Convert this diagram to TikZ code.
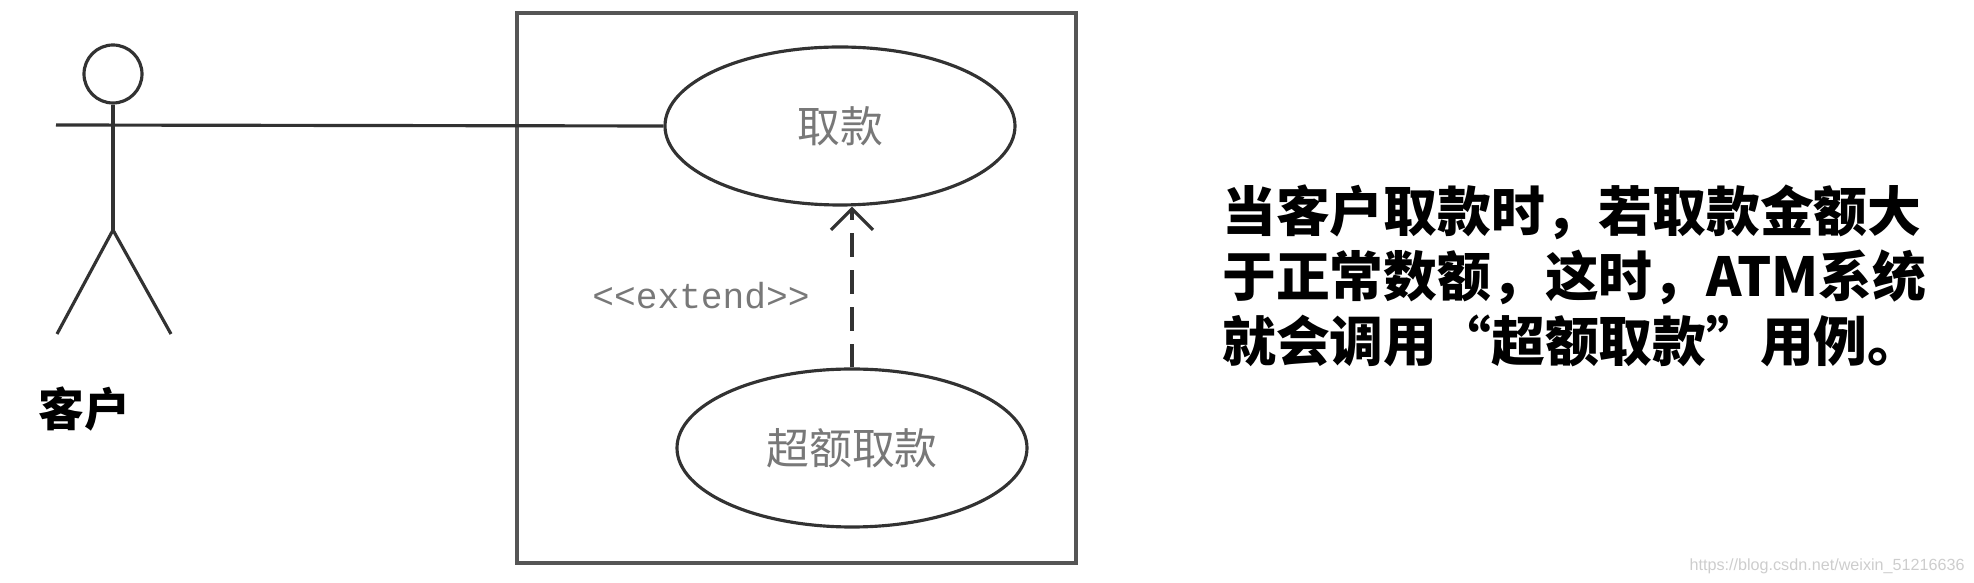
\documentclass[tikz,border=0pt]{standalone}
\usepackage{fontspec}
\usepackage{xcolor}
\usetikzlibrary{shapes.geometric,arrows.meta}
\setmainfont{Liberation Sans}
\setmonofont{Liberation Mono}
\newfontfamily\cjk{Noto Sans CJK SC}
\definecolor{lineGray}{RGB}{50,50,50}
\definecolor{frameGray}{RGB}{85,85,85}
\definecolor{labelGray}{RGB}{120,120,120}
\definecolor{markGray}{RGB}{205,205,205}

\begin{document}
\begin{tikzpicture}[
      usecase/.style={draw=lineGray, ellipse, line width=0.9pt, inner sep=0pt,
                      minimum width=3.5cm, minimum height=1.58cm,
                      text=labelGray, font=\cjk\fontsize{12.2}{14}\selectfont},
      limb/.style={line width=0.9pt, color=lineGray},
      extendarrow/.style={-{Straight Barb[length=6pt,width=12pt]}, line width=0.9pt,
                          color=lineGray, dash pattern=on 6.8pt off 3.7pt}
    ]
    \useasboundingbox (0,0) rectangle (19.74,5.83);

    \node[draw=frameGray, line width=1.2pt, minimum width=5.59cm, minimum height=5.5cm,
          inner sep=0pt] (system) at (7.965,2.95) {};

    \node[usecase] (withdraw) at (8.40,4.57) {取款};
    \node[usecase] (excess)   at (8.52,1.35) {超额取款};

    \node[draw=lineGray, circle, line width=0.9pt, minimum size=0.58cm, inner sep=0pt] (head) at (1.13,5.09) {};
    \coordinate (armleft) at (0.56,4.58);
    \coordinate (hip)     at (1.13,3.53);
    \coordinate (footl)   at (0.57,2.49);
    \coordinate (footr)   at (1.71,2.49);

    \draw[limb] (armleft) -- (withdraw.west);
    \draw[limb] (head.south) -- (hip);
    \draw[limb] (footl) -- (hip) -- (footr);

    \draw[extendarrow] (excess.north) -- (excess.north |- withdraw.south);

    \node[font=\ttfamily\fontsize{10.3}{12}\selectfont, text=labelGray] (extendlabel) at (7.01,2.87)
      {<{}<extend>{}>};
    \node[font=\cjk\bfseries\fontsize{13}{15}\selectfont] (actorname) at (0.84,1.74) {客户};

    \node[font=\cjk\bfseries\fontsize{15.3}{18.5}\selectfont, align=left, anchor=west] (note) at (12.10,3.07)
      {当客户取款时，若取款金额大\\于正常数额，这时，ATM系统\\就会调用“超额取款”用例。};

    \node[font=\fontsize{4.6}{6}\selectfont, text=markGray, anchor=east] (watermark) at (19.77,0.17)
      {https://blog.csdn.net/weixin\_51216636};
  \end{tikzpicture}
\end{document}
